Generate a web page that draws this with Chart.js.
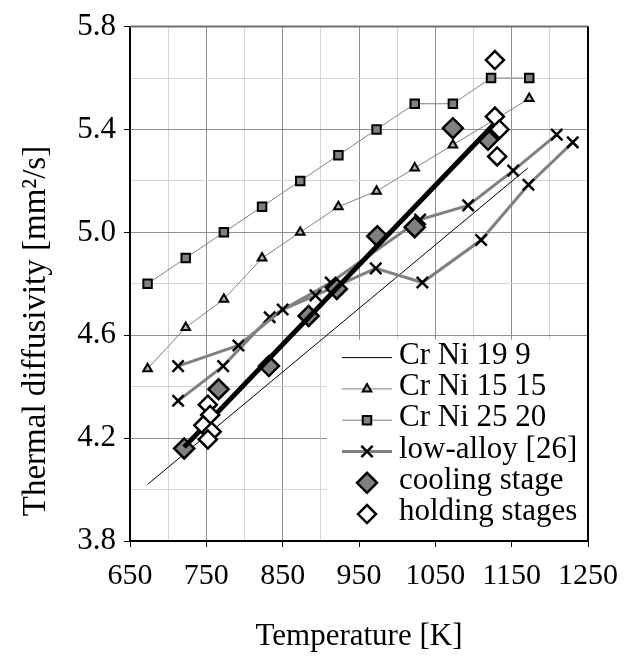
<!DOCTYPE html>
<html>
<head>
<meta charset="utf-8">
<title>Thermal diffusivity</title>
<script src="https://cdn.jsdelivr.net/npm/chart.js@4.4.1/dist/chart.umd.min.js"></script>
<style>
  html, body { margin: 0; padding: 0; background: #fff; }
  #grafico { display: block; }
</style>
</head>
<body>
<canvas id="grafico" width="629" height="660"></canvas>
<script>
// Aceros Cr-Ni: temperaturas de medición [K]
const tempAcero = [673, 723, 773, 823, 873, 923, 973, 1023, 1073, 1123, 1173];
const crNi2520 = [4.80, 4.90, 5.00, 5.10, 5.20, 5.30, 5.40, 5.50, 5.50, 5.60, 5.60];
const tempCrNi1515 = [673, 723, 773, 823, 873, 923, 973, 1023, 1073, 1173];
const crNi1515 = [4.47, 4.63, 4.74, 4.90, 5.00, 5.10, 5.16, 5.25, 5.34, 5.52];
const tempCrNi199 = [673, 1171];
const crNi199 = [4.02, 5.25];

// Acero de baja aleación [26], dos series de medición
const tempBajaA = [713, 792, 850, 893, 972, 1033, 1110, 1172, 1230];
const bajaA = [4.48, 4.56, 4.70, 4.755, 4.86, 4.805, 4.97, 5.185, 5.35];
const tempBajaB = [713, 772, 833, 913, 1030, 1093, 1152, 1209];
const bajaB = [4.345, 4.48, 4.67, 4.805, 5.05, 5.105, 5.24, 5.38];

// Mediciones propias
const tempEnfriamiento = [721, 766, 832, 884, 921, 974, 1023, 1073, 1119];
const enfriamiento = [4.16, 4.39, 4.48, 4.675, 4.78, 4.985, 5.02, 5.405, 5.36];
const tempMantenimiento = [752, 755, 746, 757, 752, 1128, 1128, 1134, 1131];
const mantenimiento = [4.33, 4.29, 4.25, 4.225, 4.195, 5.67, 5.45, 5.40, 5.295];

// Recta de ajuste
const tempAjuste = [721, 1130];
const ajuste = [4.165, 5.43];

// Ejes
const ticksX = [650, 750, 850, 950, 1050, 1150, 1250];
const ticksY = [3.8, 4.2, 4.6, 5.0, 5.4, 5.8];

const FUENTE = "'Liberation Serif', 'Times New Roman', serif";

function puntos(xs, ys) {
    return xs.map((x, i) => ({ x: x, y: ys[i] }));
}

function esMayorX(v) {
    return ticksX.some(t => Math.abs(t - v) < 1e-6);
}

function esMayorY(v) {
    return ticksY.some(t => Math.abs(t - v) < 1e-6);
}

const datasets = [
    {
        label: 'holding stages',
        data: puntos(tempMantenimiento, mantenimiento),
        showLine: false,
        pointStyle: 'rectRot', pointRadius: 9,
        pointBackgroundColor: '#ffffff', pointBorderColor: '#000000', pointBorderWidth: 2.5
    },
    {
        label: '',
        data: puntos(tempAjuste, ajuste),
        showLine: true, borderColor: '#000000', borderWidth: 5,
        pointRadius: 0
    },
    {
        label: 'cooling stage',
        data: puntos(tempEnfriamiento, enfriamiento),
        showLine: false,
        pointStyle: 'rectRot', pointRadius: 10,
        pointBackgroundColor: '#808080', pointBorderColor: '#000000', pointBorderWidth: 2.5
    },
    {
        label: 'low-alloy [26]',
        data: puntos(tempBajaA, bajaA),
        showLine: true, borderColor: '#808080', borderWidth: 3,
        pointStyle: 'crossRot', pointRadius: 8,
        pointBorderColor: '#000000', pointBorderWidth: 2.5
    },
    {
        label: '',
        data: puntos(tempBajaB, bajaB),
        showLine: true, borderColor: '#808080', borderWidth: 3,
        pointStyle: 'crossRot', pointRadius: 8,
        pointBorderColor: '#000000', pointBorderWidth: 2.5
    },
    {
        label: 'Cr Ni 19 9',
        data: puntos(tempCrNi199, crNi199),
        showLine: true, borderColor: '#000000', borderWidth: 1,
        pointRadius: 0
    },
    {
        label: 'Cr Ni 15 15',
        data: puntos(tempCrNi1515, crNi1515),
        showLine: true, borderColor: '#808080', borderWidth: 1,
        pointStyle: 'triangle', pointRadius: 5,
        pointBackgroundColor: '#b0b0b0', pointBorderColor: '#000000', pointBorderWidth: 2
    },
    {
        label: 'Cr Ni 25 20',
        data: puntos(tempAcero, crNi2520),
        showLine: true, borderColor: '#808080', borderWidth: 1,
        pointStyle: 'rect', pointRadius: 6,
        pointBackgroundColor: '#808080', pointBorderColor: '#000000', pointBorderWidth: 2
    }
];

const ordenLeyenda = ['Cr Ni 19 9', 'Cr Ni 15 15', 'Cr Ni 25 20', 'low-alloy [26]', 'cooling stage', 'holding stages'];

// Leyenda dentro del área del gráfico, título del eje Y y marco
const extras = {
    id: 'extras',
    beforeDatasetsDraw(chart) {
        const { ctx, chartArea } = chart;
        ctx.save();
        ctx.fillStyle = '#ffffff';
        ctx.fillRect(chartArea.left + 197, chartArea.top + 313, chartArea.right - chartArea.left - 198, chartArea.bottom - chartArea.top - 314);
        ctx.lineWidth = 2;
        ctx.strokeStyle = '#707070';
        ctx.beginPath();
        ctx.moveTo(chartArea.left, chartArea.top);
        ctx.lineTo(chartArea.right, chartArea.top);
        ctx.stroke();
        ctx.strokeStyle = '#000000';
        ctx.beginPath();
        ctx.moveTo(chartArea.right, chartArea.top);
        ctx.lineTo(chartArea.right, chartArea.bottom);
        ctx.stroke();
        ctx.restore();
    },
    afterDatasetsDraw(chart) {
        const { ctx, chartArea } = chart;
        const x0 = chartArea.left + 212;
        const xm = chartArea.left + 237;
        const x1 = chartArea.left + 262;
        const xt = chartArea.left + 269;
        let y = chartArea.top + 331;
        ctx.save();
        ctx.font = '31px ' + FUENTE;
        ctx.textBaseline = 'middle';
        ctx.textAlign = 'left';
        ordenLeyenda.forEach(nombre => {
            const ds = chart.data.datasets.find(d => d.label === nombre);
            if (ds.showLine) {
                ctx.strokeStyle = ds.borderColor;
                ctx.lineWidth = ds.borderWidth;
                ctx.beginPath();
                ctx.moveTo(x0, y);
                ctx.lineTo(x1, y);
                ctx.stroke();
            }
            if (ds.pointRadius > 0) {
                ctx.fillStyle = ds.pointBackgroundColor || '#000';
                ctx.strokeStyle = ds.pointBorderColor;
                ctx.lineWidth = ds.pointBorderWidth;
                Chart.helpers.drawPoint(ctx, {
                    pointStyle: ds.pointStyle, radius: ds.pointRadius,
                    borderWidth: ds.pointBorderWidth, rotation: 0
                }, xm, y);
            }
            ctx.fillStyle = '#000000';
            ctx.fillText(nombre, xt, y - 2);
            y += 31.3;
        });

        // título del eje Y
        ctx.font = '33px ' + FUENTE;
        ctx.translate(36, 331);
        ctx.rotate(-Math.PI / 2);
        ctx.textAlign = 'center';
        ctx.fillText('Thermal diffusivity [mm\u00B2/s]', 0, 0);
        ctx.restore();
    }
};

Chart.defaults.font.family = FUENTE;
Chart.defaults.font.size = 30;
Chart.defaults.color = '#000000';

new Chart(document.getElementById('grafico'), {
    type: 'scatter',
    data: { datasets: datasets },
    options: {
        responsive: false,
        animation: false,
        events: [],
        layout: { padding: { top: 20, right: 34, left: 0, bottom: 0 } },
        elements: { line: { tension: 0 } },
        plugins: {
            legend: { display: false },
            tooltip: { enabled: false }
        },
        scales: {
            x: {
                type: 'linear',
                min: 650,
                max: 1250,
                ticks: {
                    stepSize: 50,
                    autoSkip: false,
                    maxRotation: 0,
                    padding: 11,
                    callback: v => esMayorX(v) ? String(v) : ''
                },
                grid: {
                    color: c => esMayorX(c.tick.value) ? '#909090' : '#d4d4d4',
                    tickColor: c => esMayorX(c.tick.value) ? '#000000' : 'rgba(0,0,0,0)',
                    tickLength: 6,
                    lineWidth: 1
                },
                border: { color: '#000000', width: 2 },
                title: {
                    display: true,
                    text: 'Temperature [K]',
                    font: { size: 31, lineHeight: 1.2 },
                    padding: { top: 0, bottom: 5 }
                },
                afterFit(scale) { scale.height = 119; }
            },
            y: {
                type: 'linear',
                min: 3.8,
                max: 5.8,
                ticks: {
                    stepSize: 0.2,
                    autoSkip: false,
                    padding: 8,
                    font: { size: 31 },
                    callback: v => esMayorY(v) ? v.toFixed(1) : ''
                },
                grid: {
                    color: c => esMayorY(c.tick.value) ? '#909090' : '#d4d4d4',
                    tickColor: c => esMayorY(c.tick.value) ? '#000000' : 'rgba(0,0,0,0)',
                    tickLength: 6,
                    lineWidth: 1
                },
                border: { color: '#000000', width: 2 },
                afterFit(scale) { scale.width = 130; }
            }
        }
    },
    plugins: [extras]
});
</script>
</body>
</html>
